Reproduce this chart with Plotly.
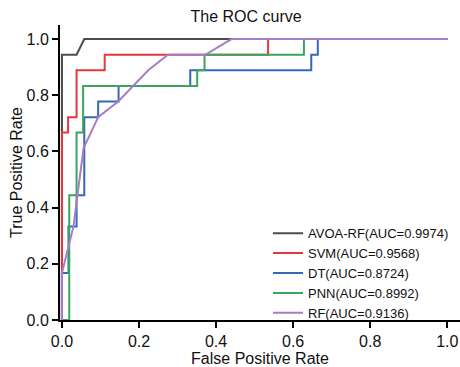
import plotly.graph_objects as go

# ROC data
avoa_fpr = [0, 0, 0.038, 0.058, 1]
avoa_tpr = [0, 0.944, 0.944, 1, 1]

svm_fpr = [0, 0, 0.016, 0.016, 0.038, 0.038, 0.111, 0.111, 0.535, 0.535, 1]
svm_tpr = [0, 0.667, 0.667, 0.722, 0.722, 0.889, 0.889, 0.944, 0.944, 1, 1]

dt_fpr = [0, 0, 0.017, 0.017, 0.038, 0.038, 0.058, 0.058, 0.094, 0.094, 0.147, 0.147,
          0.333, 0.333, 0.647, 0.647, 0.664, 0.664, 1]
dt_tpr = [0, 0.167, 0.167, 0.333, 0.333, 0.444, 0.444, 0.722, 0.722, 0.778, 0.778, 0.833,
          0.833, 0.889, 0.889, 0.944, 0.944, 1, 1]

pnn_fpr = [0, 0.019, 0.019, 0.038, 0.038, 0.055, 0.055, 0.351, 0.351, 0.37, 0.37, 0.628, 0.628, 1]
pnn_tpr = [0, 0, 0.444, 0.444, 0.667, 0.667, 0.833, 0.833, 0.889, 0.889, 0.944, 0.944, 1, 1]

rf_fpr = [0, 0, 0.030, 0.056, 0.094, 0.146, 0.224, 0.275, 0.372, 0.44, 1]
rf_tpr = [0, 0.167, 0.333, 0.611, 0.722, 0.778, 0.889, 0.944, 0.944, 1, 1]

names = ["AVOA-RF(AUC=0.9974)", "SVM(AUC=0.9568)", "DT(AUC=0.8724)",
         "PNN(AUC=0.8992)", "RF(AUC=0.9136)"]
colors = ["#4d4d4d", "#e8373c", "#3468b8", "#3da35d", "#a57ec8"]

series = [(avoa_fpr, avoa_tpr), (svm_fpr, svm_tpr), (dt_fpr, dt_tpr),
          (pnn_fpr, pnn_tpr), (rf_fpr, rf_tpr)]

fig = go.Figure()
for i, (fx, fy) in enumerate(series):
    fig.add_trace(go.Scatter(x=fx, y=fy, mode="lines", name=names[i],
                             line=dict(color=colors[i], width=2)))

font_family = "Liberation Sans, Arial, sans-serif"
axis_common = dict(
    showgrid=False, zeroline=False, automargin=False,
    showline=True, linecolor="black", linewidth=2,
    ticks="outside", ticklen=6, tickwidth=2, tickcolor="black",
    tickvals=[0, 0.2, 0.4, 0.6, 0.8, 1.0],
    ticktext=["0.0", "0.2", "0.4", "0.6", "0.8", "1.0"],
    tickfont=dict(size=16, color="#111"),
)
fig.update_layout(
    width=460, height=367,
    margin=dict(l=60, r=0, t=25, b=47),
    paper_bgcolor="white", plot_bgcolor="white",
    font=dict(family=font_family, size=16, color="#111"),
    title=dict(text="The ROC curve", x=0.535, xref="container", xanchor="center",
               y=0.954, yref="container", yanchor="middle",
               font=dict(size=16, color="#111")),
    showlegend=True,
    legend=dict(x=0.52, y=0.345, xanchor="left", yanchor="top",
                bgcolor="rgba(0,0,0,0)", font=dict(size=13, color="#111"),
                tracegroupgap=0, itemwidth=30),
)
fig.update_xaxes(range=[-0.005, 1.033],
                 title=dict(text="False Positive Rate", font=dict(size=16, color="#111"), standoff=2),
                 **axis_common)
fig.update_yaxes(range=[0, 1.05],
                 title=dict(text="True Positive Rate", font=dict(size=16, color="#111"), standoff=0),
                 **axis_common)

fig.write_html("out.html", config={"displayModeBar": False},
               post_script="document.body.style.margin='0';document.body.style.overflow='hidden';")
